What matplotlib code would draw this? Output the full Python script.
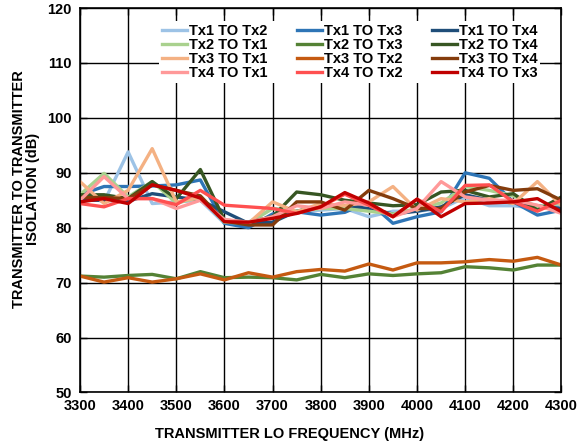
import matplotlib.pyplot as plt

plt.rcParams['font.family'] = ['Liberation Sans', 'DejaVu Sans']
plt.rcParams['font.weight'] = 'bold'

freq = [3300, 3350, 3400, 3450, 3500, 3550, 3600, 3650, 3700, 3750, 3800,
        3850, 3900, 3950, 4000, 4050, 4100, 4150, 4200, 4250, 4300]

tx1_tx2 = [86, 84.7, 93.8, 84.4, 84.7, 85, 80.8, 81, 83.5, 83, 83.2, 83.5, 82, 83, 83, 83.5, 85.5, 84, 84, 83.5, 84]
tx1_tx3 = [86, 87.5, 87.5, 87.6, 87.8, 88.7, 80.8, 80, 82.5, 82.9, 82.3, 82.8, 84.7, 80.8, 82, 82.9, 90, 89, 84.7, 82.3, 83.2]
tx1_tx4 = [85, 85, 84.8, 86.2, 85.6, 85, 82.9, 80.8, 81, 83, 84, 84, 83.5, 82.5, 83, 83.8, 86, 85, 84.5, 84, 83.5]
tx2_tx1 = [86, 89.9, 85.6, 88.4, 84.5, 85.5, 81, 80.8, 83.5, 83, 83.5, 83.5, 83, 82.5, 83.5, 84.5, 87.5, 86.8, 85.8, 83.8, 84.5]
tx2_tx3 = [71.2, 71, 71.3, 71.5, 70.7, 72, 70.9, 71, 70.9, 70.5, 71.5, 70.9, 71.6, 71.3, 71.6, 71.8, 72.9, 72.7, 72.3, 73.2, 73.2]
tx2_tx4 = [86, 86, 85.3, 88.4, 85.3, 90.6, 81.4, 81, 82, 86.5, 86, 85, 84.5, 84, 84.2, 86.5, 86.8, 85.6, 86.2, 83.2, 85.6]
tx3_tx1 = [88.4, 84.4, 86.8, 94.4, 84.7, 85.5, 81.2, 80.8, 84.7, 82.9, 84.4, 84, 84.7, 87.5, 83.2, 85.3, 84.7, 85.3, 84.4, 88.4, 84]
tx3_tx2 = [71.2, 70.1, 70.9, 70.1, 70.7, 71.6, 70.5, 71.8, 71, 72, 72.4, 72.1, 73.4, 72.3, 73.6, 73.6, 73.8, 74.2, 73.9, 74.6, 73.2]
tx3_tx4 = [85.5, 85.5, 85.3, 87.8, 86.8, 85.8, 81.2, 80.5, 80.5, 84.7, 84.7, 83.2, 86.8, 85.3, 83.5, 83.5, 86.5, 87.7, 86.8, 87.1, 85]
tx4_tx1 = [85, 89.3, 85.3, 85.3, 83.5, 85, 81.5, 81, 82, 84, 83.5, 84.7, 84.1, 82, 83.5, 88.4, 85.6, 85, 85, 84.1, 82.6]
tx4_tx2 = [84.4, 83.8, 85.3, 85.3, 84.2, 86.8, 84.1, 83.8, 83.5, 82.6, 83.8, 86.1, 84.1, 82, 85.2, 82.9, 87.7, 87.8, 84.7, 83, 85]
tx4_tx3 = [84.7, 85.3, 84.4, 87.8, 86.8, 85.4, 81.1, 81, 81.7, 82.6, 83.8, 86.4, 84.5, 82, 85.2, 82, 84.4, 84.5, 84.7, 85.3, 82.9]

labels = ['Tx1 TO Tx2', 'Tx1 TO Tx3', 'Tx1 TO Tx4',
          'Tx2 TO Tx1', 'Tx2 TO Tx3', 'Tx2 TO Tx4',
          'Tx3 TO Tx1', 'Tx3 TO Tx2', 'Tx3 TO Tx4',
          'Tx4 TO Tx1', 'Tx4 TO Tx2', 'Tx4 TO Tx3']
series = [tx1_tx2, tx1_tx3, tx1_tx4, tx2_tx1, tx2_tx3, tx2_tx4,
          tx3_tx1, tx3_tx2, tx3_tx4, tx4_tx1, tx4_tx2, tx4_tx3]
colours = ['#9DC3E6', '#2E75B6', '#1F4E79', '#A9D18E', '#548235', '#375623',
           '#F4B183', '#C55A11', '#843C0C', '#FF9999', '#FF5050', '#C00000']


def run():
  fig = plt.figure(figsize=(5.77, 4.46), dpi=100)
  ax = fig.add_axes([0.1386, 0.120, 0.8345, 0.862])

  lines = []
  for values, colour, label in zip(series, colours, labels):
    line, = ax.plot(freq, values, color=colour, lw=2.4, label=label)
    lines.append(line)

  ax.set_xlim(3300, 4300)
  ax.set_ylim(50, 120)
  ax.set_xticks(range(3300, 4301, 100))
  ax.set_yticks(range(50, 121, 10))
  ax.grid(True, color='black', lw=1.0)
  ax.set_axisbelow(True)
  ax.tick_params(direction='in', top=True, right=True, length=5, width=1,
                 labelsize=10.5)
  ax.tick_params(axis='x', pad=5)
  ax.tick_params(axis='y', pad=6)
  for spine in ax.spines.values():
    spine.set_linewidth(1.2)

  ax.set_xlabel('TRANSMITTER LO FREQUENCY (MHz)', fontsize=10.5, fontweight='bold')
  ax.set_ylabel('TRANSMITTER TO TRANSMITTER\nISOLATION (dB)', fontsize=10.5,
                fontweight='bold', linespacing=1.0)
  ax.xaxis.set_label_coords(0.436, -0.090)
  ax.yaxis.set_label_coords(-0.083, 0.529)

  # legend fills column by column, so reorder to read row by row
  order = [0, 3, 6, 9, 1, 4, 7, 10, 2, 5, 8, 11]
  leg = ax.legend([lines[i] for i in order], [labels[i] for i in order],
                  ncol=3, loc='upper left', bbox_to_anchor=(0.165, 0.967),
                  borderaxespad=0, frameon=True, fancybox=False,
                  handlelength=1.7, handletextpad=0.15, columnspacing=2.0,
                  labelspacing=0.0, borderpad=0.2,
                  prop={'size': 10.5, 'weight': 'bold'})
  leg.get_frame().set_facecolor('white')
  leg.get_frame().set_edgecolor('none')
  leg.get_frame().set_alpha(1)

  fig.savefig('out.png', dpi=100)

run()
